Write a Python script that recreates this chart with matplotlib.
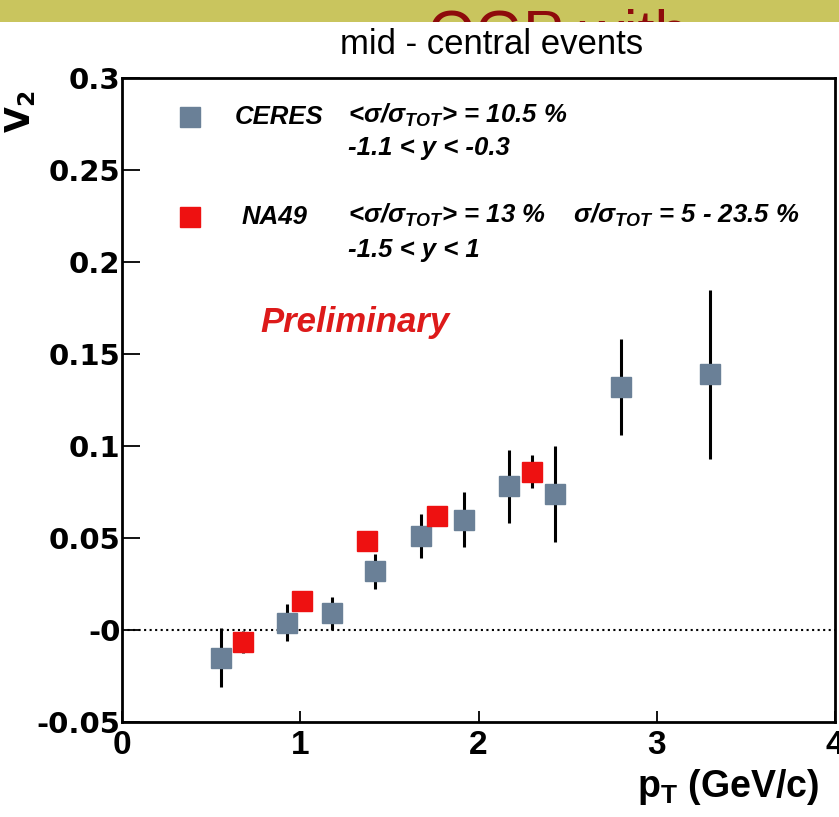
import matplotlib
matplotlib.use("Agg")
import matplotlib.pyplot as plt
from matplotlib.patches import Rectangle
from matplotlib.transforms import Bbox, TransformedBbox

# CERES points (gray-blue)
ceres_pt = [0.555, 0.925, 1.18, 1.42, 1.675, 1.92, 2.17, 2.43, 2.80, 3.30]
ceres_v2 = [-0.015, 0.004, 0.009, 0.032, 0.051, 0.060, 0.078, 0.074, 0.132, 0.139]
ceres_err = [0.016, 0.010, 0.009, 0.0095, 0.012, 0.015, 0.020, 0.026, 0.026, 0.046]

# NA49 points (red)
na49_pt = [0.68, 1.01, 1.375, 1.765, 2.30]
na49_v2 = [-0.0065, 0.016, 0.0485, 0.062, 0.086]
na49_err = [0.006, 0.003, 0.0, 0.003, 0.009]

yticks = [-0.05, 0.0, 0.05, 0.1, 0.15, 0.2, 0.25, 0.3]
ylabels = ['-0.05', '-0', '0.05', '0.1', '0.15', '0.2', '0.25', '0.3']
xticks = [0, 1, 2, 3, 4]

W, H = 839, 817
fig = plt.figure(figsize=(W / 100, H / 100), dpi=100)
fig.patch.set_facecolor('white')

# slide header strip with the clipped title
band_h = 22 / H
fig.patches.append(Rectangle((0, 1 - band_h), 1, band_h, transform=fig.transFigure,
                             facecolor='#c9c55e', edgecolor='none', zorder=0))
t = fig.text(428 / W, 1 - 9 / H, 'QGP with', va='top', ha='left', fontsize=44,
             color='#8e0b0b', family='Liberation Sans', zorder=1)
t.set_clip_box(TransformedBbox(Bbox([[0, 1 - band_h], [1, 1]]), fig.transFigure))
t.set_clip_on(True)

ax = fig.add_axes([122 / W, 1 - 722 / H, (835 - 122) / W, (722 - 78) / H])

ceres_col = '#6a8097'
na49_col = '#ee1111'

ax.axhline(0, color='black', ls=':', lw=1.5, zorder=1)

ax.errorbar(ceres_pt, ceres_v2, yerr=ceres_err, fmt='s', ms=15, color=ceres_col,
            mec=ceres_col, ecolor='black', elinewidth=2.2, capsize=0, zorder=3)
ax.errorbar(na49_pt, na49_v2, yerr=na49_err, fmt='s', ms=15, color=na49_col,
            mec=na49_col, ecolor='black', elinewidth=2.2, capsize=0, zorder=3)

ax.set_xlim(0, 4)
ax.set_ylim(-0.05, 0.3)
ax.set_yticks(yticks)
ax.set_yticklabels(ylabels, family='DejaVu Sans', fontweight='bold', fontsize=21)
ax.set_xticks(xticks)
ax.set_xticklabels([str(v) for v in xticks], family='Liberation Sans',
                   fontweight='bold', fontsize=24)
ax.tick_params(axis='y', direction='in', length=13, width=1.3, pad=1)
ax.tick_params(axis='x', direction='in', length=8, width=1.3, pad=6)
for s in ax.spines.values():
    s.set_linewidth(2.0)

# legend block
lg = dict(family='Liberation Sans', fontweight='bold', style='italic', fontsize=18.5,
          transform=ax.transAxes, va='center', ha='left')
ax.plot([0.0954], [0.9394], 's', ms=15, color=ceres_col, transform=ax.transAxes, clip_on=False)
ax.plot([0.0954], [0.7842], 's', ms=15, color=na49_col, transform=ax.transAxes, clip_on=False)
ax.text(0.1585, 0.9394, 'CERES', **lg)
ax.text(0.317, 0.9425, r'<σ/σ$_{\mathregular{TOT}}$> = 10.5 %', **lg)
ax.text(0.317, 0.8913, '-1.1 < y < -0.3', **lg)
ax.text(0.1683, 0.7842, 'NA49', **lg)
ax.text(0.317, 0.7873, r'<σ/σ$_{\mathregular{TOT}}$> = 13 %', **lg)
ax.text(0.6325, 0.7873, r'σ/σ$_{\mathregular{TOT}}$ = 5 - 23.5 %', **lg)
ax.text(0.317, 0.7329, '-1.5 < y < 1', **lg)

ax.text(0.1935, 0.621, 'Preliminary', color='#dd1a1a', family='Liberation Sans',
        fontweight='bold', style='italic', fontsize=25, transform=ax.transAxes,
        va='center', ha='left')

fig.text(492 / W, 1 - 45 / H, 'mid - central events', ha='center', va='center',
         fontsize=25, family='Liberation Sans')
fig.text(21 / W, 1 - 112 / H, r'V$_{\mathregular{2}}$', rotation=90, ha='center',
         va='center', fontsize=24, fontweight='bold', family='DejaVu Sans')
fig.text(819 / W, 1 - 787 / H, r'p$_{\mathregular{T}}$ (GeV/c)', ha='right', va='center',
         fontsize=27, fontweight='bold', family='Liberation Sans')

fig.savefig('out.png', dpi=100)
